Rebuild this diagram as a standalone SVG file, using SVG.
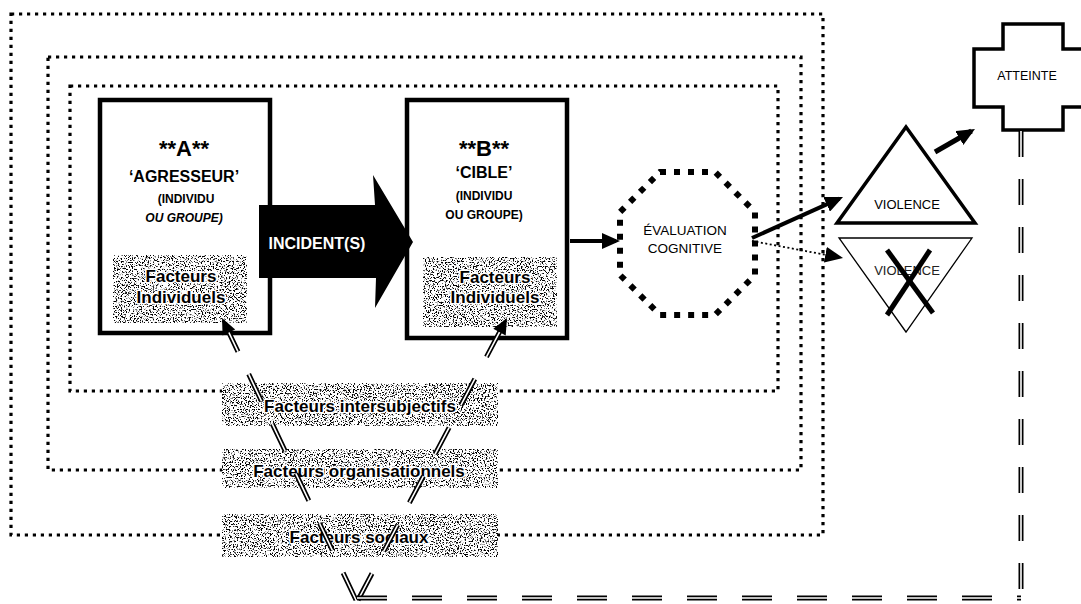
<svg xmlns="http://www.w3.org/2000/svg" width="1081" height="604" viewBox="0 0 1081 604">
<style>
.dot{fill:none;stroke:#000;stroke-width:3.2;stroke-dasharray:3.2 4.8}
.box{fill:#fff;stroke:#000;stroke-width:4.5}
.t{font-family:"Liberation Sans",Arial,sans-serif;fill:#000;text-anchor:middle}
.b{font-weight:bold}
.halo{font-family:"Liberation Sans",Arial,sans-serif;font-weight:bold;font-size:17px;text-anchor:middle;fill:#000;stroke:#fff;stroke-width:3;paint-order:stroke;stroke-linejoin:round}
.tex{fill:#fff;filter:url(#speckle)}
.dblk{fill:none;stroke:#000;stroke-width:5}
.dwht{fill:none;stroke:#fff;stroke-width:1.6}
.arr{fill:none;stroke:#000;stroke-width:4;marker-end:url(#ah)}
</style>
<defs>
<filter id="speckle" x="0" y="0" width="100%" height="100%" color-interpolation-filters="sRGB">
<feTurbulence type="fractalNoise" baseFrequency="0.75" numOctaves="2" seed="7" result="n"/>
<feColorMatrix in="n" type="matrix" values="0 0 0 0 0  0 0 0 0 0  0 0 0 0 0  9 0 0 0 -4.75" result="m"/>
<feComposite in="m" in2="SourceAlpha" operator="in" result="sp"/>
<feMerge><feMergeNode in="SourceGraphic"/><feMergeNode in="sp"/></feMerge>
</filter>
<marker id="ah" viewBox="0 0 18 16" markerWidth="18" markerHeight="16" refX="14" refY="8" orient="auto" markerUnits="userSpaceOnUse">
<path d="M0,0 L18,8 L0,16 z" fill="#000"/>
</marker>
</defs>

<g id="frames">
<rect class="dot" x="11" y="14" width="812" height="521"/>
<rect class="dot" x="48" y="57" width="753" height="413"/>
<rect class="dot" x="70" y="86" width="708" height="305"/>
</g>

<g id="nodeA">
<rect class="box" x="100" y="100" width="170" height="233"/>
<text class="t b" x="184" y="156" font-size="22">**A**</text>
<text class="t b" x="184" y="182" font-size="16">‘AGRESSEUR’</text>
<text class="t b" x="186" y="203" font-size="12">(INDIVIDU</text>
<text class="t b" x="184" y="222" font-size="12" font-style="italic">OU GROUPE)</text>
<rect class="tex" x="113" y="255" width="134" height="68"/>
<text class="halo" x="181" y="282">Facteurs</text>
<text class="halo" x="181" y="303">Individuels</text>
</g>

<g id="nodeB">
<rect class="box" x="407" y="100" width="160" height="238"/>
<text class="t b" x="484" y="156" font-size="22">**B**</text>
<text class="t b" x="484" y="178" font-size="16">‘CIBLE’</text>
<text class="t b" x="484" y="200" font-size="12">(INDIVIDU</text>
<text class="t b" x="484" y="219" font-size="12">OU GROUPE)</text>
<rect class="tex" x="423" y="257" width="134" height="70"/>
<text class="halo" x="495" y="283">Facteurs</text>
<text class="halo" x="495" y="303">Individuels</text>
</g>

<g id="incident">
<polygon points="259,205 375,205 373,175 413,242 375,308 376,278 259,278" fill="#000"/>
<text class="t b" x="317" y="249" font-size="16" style="fill:#fff">INCIDENT(S)</text>
</g>

<g id="evaluation">
<polygon points="660,172 715,172 755,212 755,275 715,315 660,315 620,275 620,212" fill="none" stroke="#000" stroke-width="6" stroke-dasharray="6 8"/>
<text class="t" x="685" y="235" font-size="13.5">ÉVALUATION</text>
<text class="t" x="685" y="253" font-size="13.5">COGNITIVE</text>
</g>

<g id="violence">
<polygon points="906,127 975,223 837,223" fill="#fff" stroke="#000" stroke-width="3.5" stroke-linejoin="miter"/>
<text class="t" x="907" y="209" font-size="13">VIOLENCE</text>
</g>

<g id="violence-crossed">
<polygon points="839,238 972,238 906,332" fill="#fff" stroke="#000" stroke-width="1.3"/>
<text class="t" x="907" y="275" font-size="13" style="fill:#222">VIOLENCE</text>
<line x1="887" y1="250" x2="933" y2="313" stroke="#000" stroke-width="5"/>
<line x1="930" y1="250" x2="887" y2="315" stroke="#000" stroke-width="5"/>
</g>

<g id="atteinte">
<polygon points="1003,24 1063,24 1063,49 1090,49 1090,107 1063,107 1063,130 1003,130 1003,107 974,107 974,49 1003,49" fill="#fff" stroke="#000" stroke-width="3.5"/>
<text class="t" x="1027" y="80" font-size="12.5">ATTEINTE</text>
</g>

<g id="factor-levels">
<rect class="tex" x="222" y="383" width="276" height="43"/>
<rect class="tex" x="222" y="449" width="276" height="39"/>
<rect class="tex" x="222" y="514" width="276" height="43"/>
<text class="halo" x="360" y="412">Facteurs intersubjectifs</text>
<text class="halo" x="359" y="477">Facteurs organisationnels</text>
<text class="halo" x="359" y="543">Facteurs sociaux</text>
</g>

<g id="connectors">
<path class="arr" d="M570,241 L616,241"/>
<path class="arr" d="M752,238 L839.4,198.6"/>
<path d="M752,241 L839.1,257.3" fill="none" stroke="#000" stroke-width="1.8" stroke-dasharray="2 2.5" marker-end="url(#ah)"/>
<path d="M935,152 L971.5,131" fill="none" stroke="#000" stroke-width="5" marker-end="url(#ah)"/>

<g stroke-dasharray="30 25">
<path class="dblk" d="M356,600 L222,318"/>
<path class="dwht" d="M356,600 L222,318"/>
<path class="dblk" d="M358,600 L507,318"/>
<path class="dwht" d="M358,600 L507,318"/>
<path class="dblk" d="M357,598 L1021,598"/>
<path class="dwht" d="M357,598 L1021,598"/>
</g>
<g stroke-dasharray="26 22">
<path class="dblk" d="M1021,131 L1021,598"/>
<path class="dwht" d="M1021,131 L1021,598"/>
</g>
<polygon points="222,318 222.6,335.4 235.2,329.4" fill="#000"/>
<polygon points="507,318 505.7,335.4 493.3,328.8" fill="#000"/>
</g>
</svg>
